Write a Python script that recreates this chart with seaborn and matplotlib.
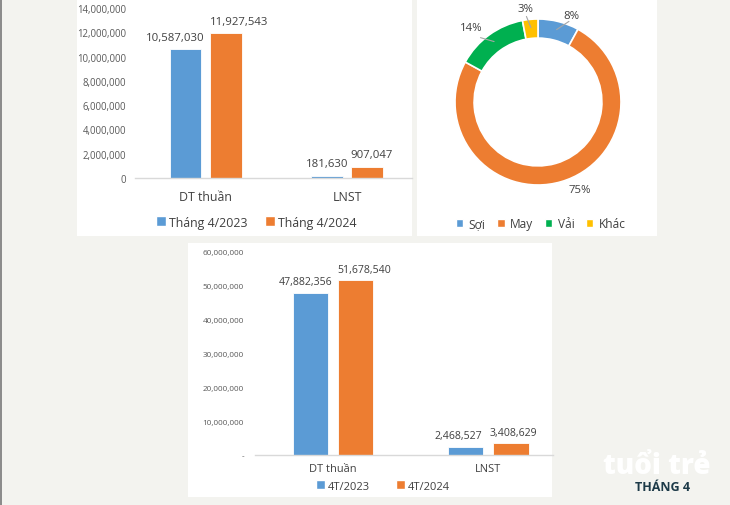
import numpy as np
import pandas as pd
import matplotlib
matplotlib.use("Agg")
import matplotlib.pyplot as plt
from matplotlib.patches import Rectangle, Patch
from matplotlib.lines import Line2D
from matplotlib.ticker import FuncFormatter, FixedLocator
import seaborn as sns

# ---------------- data ----------------
categories = ["DT thuần", "LNST"]

month_periods = ["Tháng 4/2023", "Tháng 4/2024"]
month_2023 = [10587030, 181630]
month_2024 = [11927543, 907047]
month_ticks = [0, 2000000, 4000000, 6000000, 8000000, 10000000, 12000000, 14000000]

ytd_periods = ["4T/2023", "4T/2024"]
ytd_2023 = [47882356, 2468527]
ytd_2024 = [51678540, 3408629]
ytd_ticks = [0, 10000000, 20000000, 30000000, 40000000, 50000000, 60000000]

segments = ["Sợi", "May", "Vải", "Khác"]
segment_share = [8, 75, 14, 3]

# ---------------- style ----------------
BLUE, ORANGE, GREEN, YELLOW = "#5B9BD5", "#ED7D31", "#00B050", "#FFC000"
TICK_C, LABEL_C = "#595959", "#404040"
BG = "#f3f3ef"

sns.set_style("white")
plt.rcParams["font.family"] = ["Open Sans", "DejaVu Sans"]

W, H = 730, 506
fig = plt.figure(figsize=(W / 100, H / 100), dpi=100)
fig.patch.set_facecolor(BG)


def px_rect(x0, y0, x1, y1):
    return [x0 / W, 1 - y1 / H, (x1 - x0) / W, (y1 - y0) / H]


def fx(x):
    return x / W


def fy(y):
    return 1 - y / H


# white panels
for (x0, y0, x1, y1) in [(77, 0, 412, 237), (417, 0, 657, 237), (188, 244, 552, 498)]:
    fig.add_artist(Rectangle((x0 / W, 1 - y1 / H), (x1 - x0) / W, (y1 - y0) / H,
                             transform=fig.transFigure, facecolor="white",
                             edgecolor="none", zorder=-5))
fig.add_artist(Line2D([fx(0.8), fx(0.8)], [0, 1], transform=fig.transFigure,
                      color="#8a8a8a", lw=1.4, zorder=-4))


def bar_panel(rect, vals_a, vals_b, periods, ticks, zero_label, width, gap, xmax,
              fs_tick, fs_val, fs_cat, tick_pad, cat_pad, label_dx, label_dy,
              leg_center, fs_leg, colspace, hsize):
    df = pd.DataFrame({
        "cat": categories * 2,
        "period": [periods[0]] * len(categories) + [periods[1]] * len(categories),
        "value": list(vals_a) + list(vals_b),
    })
    ax = fig.add_axes(rect)
    ax.set_facecolor("none")
    sns.barplot(data=df, x="cat", y="value", hue="period", palette=[BLUE, ORANGE],
                width=width, gap=gap, saturation=1, errorbar=None, legend=False,
                edgecolor="white", linewidth=0.6, ax=ax)
    ax.set_xlim(-0.5, xmax)
    ax.set_ylim(ticks[0], ticks[-1])
    ax.yaxis.set_major_locator(FixedLocator(ticks))
    ax.yaxis.set_major_formatter(FuncFormatter(
        lambda v, p: zero_label if v == 0 else f"{v:,.0f}"))
    ax.tick_params(axis="y", length=0, pad=tick_pad, labelsize=fs_tick, labelcolor=TICK_C)
    ax.tick_params(axis="x", length=0, pad=cat_pad, labelsize=fs_cat, labelcolor=LABEL_C)
    ax.set_xlabel("")
    ax.set_ylabel("")
    for s in ["top", "right", "left"]:
        ax.spines[s].set_visible(False)
    ax.spines["bottom"].set_color("#d9d9d9")
    ax.spines["bottom"].set_linewidth(1.0)
    for hi, cont in enumerate(ax.containers):
        for ci, bar in enumerate(cont):
            v = bar.get_height()
            ax.annotate(f"{v:,.0f}", (bar.get_x() + bar.get_width() / 2, v),
                        xytext=(label_dx[hi][ci], label_dy), textcoords="offset pixels",
                        ha="center", va="center", fontsize=fs_val, color=LABEL_C,
                        annotation_clip=False)
    ax.legend(handles=[Patch(facecolor=BLUE), Patch(facecolor=ORANGE)], labels=periods,
              loc="center", bbox_to_anchor=(fx(leg_center[0]), fy(leg_center[1])),
              bbox_transform=fig.transFigure, ncol=2, frameon=False, fontsize=fs_leg,
              handlelength=hsize, handleheight=hsize, handletextpad=0.25,
              columnspacing=colspace, labelcolor=LABEL_C)
    return ax


# top-left: April
bar_panel(px_rect(135, 9, 412, 179), month_2023, month_2024, month_periods, month_ticks,
          "0", width=0.568, gap=0.21, xmax=1.46,
          fs_tick=6.9, fs_val=8.2, fs_cat=8.9, tick_pad=6.5, cat_pad=8.5,
          label_dx=[[-10, 0], [13, 5]], label_dy=12,
          leg_center=(256, 223), fs_leg=8.9, colspace=1.4, hsize=0.8)

# bottom: 4 months
bar_panel(px_rect(255, 253, 553, 456), ytd_2023, ytd_2024, ytd_periods, ytd_ticks,
          "-", width=0.579, gap=0.22, xmax=1.415,
          fs_tick=5.9, fs_val=7.6, fs_cat=7.9, tick_pad=8, cat_pad=6,
          label_dx=[[-5, -8], [9, 2]], label_dy=11,
          leg_center=(383, 487), fs_leg=8.0, colspace=2.3, hsize=0.8)

# donut
axp = fig.add_axes(px_rect(455, 20, 621, 186))
axp.set_facecolor("none")
wedges, _ = axp.pie(segment_share, colors=[BLUE, ORANGE, GREEN, YELLOW], startangle=90,
                    counterclock=False, radius=1,
                    wedgeprops=dict(width=0.23, edgecolor="white", linewidth=1.2))
axp.set_xlim(-1, 1)
axp.set_ylim(-1, 1)
nudge = [(-6.6, 1.12), (9.3, 1.17), (5.8, 1.2), (2.3, 1.14)]
for w, share, (da, r) in zip(wedges, segment_share, nudge):
    mid = np.deg2rad((w.theta1 + w.theta2) / 2)
    lab = mid + np.deg2rad(da)
    axp.text(r * np.cos(lab), r * np.sin(lab), f"{share}%", ha="center", va="center",
             fontsize=8.2, color=LABEL_C, clip_on=False)
    if share < 50:
        axp.plot([0.9 * np.cos(mid), 1.04 * np.cos(lab)],
                 [0.9 * np.sin(mid), 1.04 * np.sin(lab)],
                 color="#a6a6a6", lw=0.8, clip_on=False)
axp.legend(handles=[Patch(facecolor=c) for c in [BLUE, ORANGE, GREEN, YELLOW]],
           labels=segments, loc="center", bbox_to_anchor=(fx(541), fy(225)),
           bbox_transform=fig.transFigure, ncol=4, frameon=False, fontsize=8.6,
           handlelength=0.6, handleheight=0.6, handletextpad=0.45, columnspacing=1.0,
           labelcolor=LABEL_C)

# watermark
fig.text(fx(657), fy(467), "tuổi trẻ", ha="center", va="center", fontsize=20,
         fontweight="heavy", color="white")
fig.text(fx(663), fy(488), "THÁNG 4", ha="center", va="center", fontsize=9,
         fontweight="bold", color="#1d3a48")

fig.savefig("out.png", dpi=100, facecolor=BG)
